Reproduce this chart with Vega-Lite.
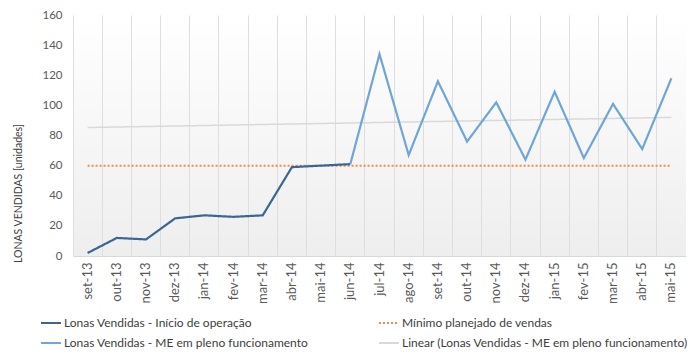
{
  "$schema": "https://vega.github.io/schema/vega-lite/v6.json",
  "width": 613,
  "height": 241,
  "autosize": {"type": "none"},
  "padding": {"left": 73, "top": 15, "right": 6, "bottom": 106},
  "background": "#ffffff",
  "config": {
    "font": "Lato",
    "view": {
      "stroke": null,
      "fill": {"gradient": "linear", "x1": 0, "y1": 0, "x2": 0, "y2": 1,
        "stops": [{"offset": 0, "color": "#ffffff"}, {"offset": 1, "color": "#eeeeee"}]}
    }
  },
  "datasets": {
    "sales": [
      {"month": "set-13", "series": "Lonas Vendidas - Início de operação", "value": 2},
      {"month": "out-13", "series": "Lonas Vendidas - Início de operação", "value": 12},
      {"month": "nov-13", "series": "Lonas Vendidas - Início de operação", "value": 11},
      {"month": "dez-13", "series": "Lonas Vendidas - Início de operação", "value": 25},
      {"month": "jan-14", "series": "Lonas Vendidas - Início de operação", "value": 27},
      {"month": "fev-14", "series": "Lonas Vendidas - Início de operação", "value": 26},
      {"month": "mar-14", "series": "Lonas Vendidas - Início de operação", "value": 27},
      {"month": "abr-14", "series": "Lonas Vendidas - Início de operação", "value": 59},
      {"month": "mai-14", "series": "Lonas Vendidas - Início de operação", "value": 60},
      {"month": "jun-14", "series": "Lonas Vendidas - Início de operação", "value": 61},
      {"month": "jun-14", "series": "Lonas Vendidas - ME em pleno funcionamento", "value": 61},
      {"month": "jul-14", "series": "Lonas Vendidas - ME em pleno funcionamento", "value": 134},
      {"month": "ago-14", "series": "Lonas Vendidas - ME em pleno funcionamento", "value": 67},
      {"month": "set-14", "series": "Lonas Vendidas - ME em pleno funcionamento", "value": 116},
      {"month": "out-14", "series": "Lonas Vendidas - ME em pleno funcionamento", "value": 76},
      {"month": "nov-14", "series": "Lonas Vendidas - ME em pleno funcionamento", "value": 102},
      {"month": "dez-14", "series": "Lonas Vendidas - ME em pleno funcionamento", "value": 64},
      {"month": "jan-15", "series": "Lonas Vendidas - ME em pleno funcionamento", "value": 109},
      {"month": "fev-15", "series": "Lonas Vendidas - ME em pleno funcionamento", "value": 65},
      {"month": "mar-15", "series": "Lonas Vendidas - ME em pleno funcionamento", "value": 101},
      {"month": "abr-15", "series": "Lonas Vendidas - ME em pleno funcionamento", "value": 71},
      {"month": "mai-15", "series": "Lonas Vendidas - ME em pleno funcionamento", "value": 118}
    ],
    "minimo": [
      {"month": "set-13", "series": "Mínimo planejado de vendas", "value": 60},
      {"month": "mai-15", "series": "Mínimo planejado de vendas", "value": 60}
    ],
    "trend": [
      {"month": "set-13", "series": "Linear (Lonas Vendidas - ME em pleno funcionamento)", "value": 85.3},
      {"month": "mai-15", "series": "Linear (Lonas Vendidas - ME em pleno funcionamento)", "value": 92}
    ]
  },
  "encoding": {
    "x": {
      "field": "month", "type": "nominal",
      "sort": ["set-13","out-13","nov-13","dez-13","jan-14","fev-14","mar-14","abr-14","mai-14","jun-14","jul-14","ago-14","set-14","out-14","nov-14","dez-14","jan-15","fev-15","mar-15","abr-15","mai-15"],
      "scale": {"type": "band", "paddingInner": 0, "paddingOuter": 0,
        "domain": ["set-13","out-13","nov-13","dez-13","jan-14","fev-14","mar-14","abr-14","mai-14","jun-14","jul-14","ago-14","set-14","out-14","nov-14","dez-14","jan-15","fev-15","mar-15","abr-15","mai-15"]},
      "bandPosition": 0.5,
      "axis": {
        "title": null, "labelAngle": 270, "labelAlign": "right", "labelBaseline": "middle",
        "labelFontSize": 13, "labelColor": "#595959", "labelPadding": 6,
        "ticks": false, "grid": true, "gridColor": "#dedede", "gridWidth": 1,
        "bandPosition": 0, "domainColor": "#d9d9d9"
      }
    },
    "y": {
      "field": "value", "type": "quantitative",
      "scale": {"domain": [0, 160], "nice": false},
      "axis": {
        "title": "LONAS VENDIDAS [unidades]", "titleFontSize": 10.5, "titleFontWeight": "normal",
        "titleColor": "#404040", "titleX": -55, "titleY": 178, "titleAngle": 270,
        "titleAlign": "center", "titleBaseline": "middle",
        "values": [0,20,40,60,80,100,120,140,160],
        "labelFontSize": 11.5, "labelColor": "#595959", "labelPadding": 11,
        "ticks": false, "domain": false, "grid": false
      }
    },
    "color": {
      "field": "series", "type": "nominal",
      "scale": {
        "domain": ["Lonas Vendidas - Início de operação", "Mínimo planejado de vendas", "Lonas Vendidas - ME em pleno funcionamento", "Linear (Lonas Vendidas - ME em pleno funcionamento)"],
        "range": ["#3c6590", "#f08a4b", "#6fa5d8", "#d9d9d9"]
      },
      "legend": {
        "title": null, "orient": "none", "legendX": -33, "legendY": 297,
        "direction": "horizontal",
        "columns": 2, "columnPadding": 66, "rowPadding": 3, "labelLimit": 500,
        "symbolType": "stroke", "symbolSize": 400, "symbolStrokeWidth": 2,
        "labelFontSize": 12, "labelColor": "#404040", "labelOffset": 2
      }
    },
    "strokeDash": {
      "field": "series", "type": "nominal",
      "scale": {
        "domain": ["Lonas Vendidas - Início de operação", "Mínimo planejado de vendas", "Lonas Vendidas - ME em pleno funcionamento", "Linear (Lonas Vendidas - ME em pleno funcionamento)"],
        "range": [[1, 0], [2, 2], [1, 0], [1, 0]]
      },
      "legend": null
    }
  },
  "layer": [
    {"data": {"name": "trend"}, "mark": {"type": "line", "strokeWidth": 1.5}},
    {"data": {"name": "minimo"}, "mark": {"type": "line", "strokeWidth": 2}},
    {"data": {"name": "sales"}, "mark": {"type": "line", "strokeWidth": 2.2}}
  ]
}
